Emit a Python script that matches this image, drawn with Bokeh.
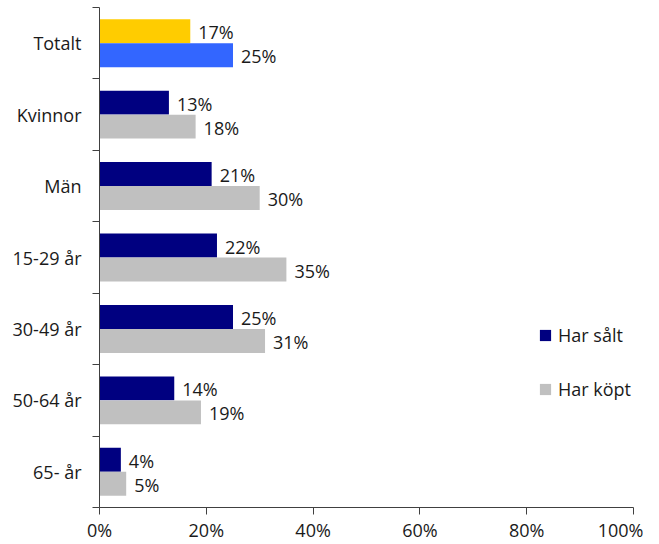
from bokeh.plotting import figure
from bokeh.models import ColumnDataSource, FixedTicker, Legend, LegendItem, PrintfTickFormatter, Range1d, LabelSet
from bokeh.core.properties import value
from bokeh.embed import file_html
from bokeh.resources import INLINE

categories = ["Totalt", "Kvinnor", "Män", "15-29 år", "30-49 år", "50-64 år", "65- år"]
har_salt = [17, 13, 21, 22, 25, 14, 4]
har_kopt = [25, 18, 30, 35, 31, 19, 5]
x_ticks = [0, 20, 40, 60, 80, 100]
series_names = ["Har sålt", "Har köpt"]

FONT = "Open Sans"
FS = "18px"
TXT = "#1a1a1a"
n = len(categories)
centers = [n - i - 0.5 for i in range(n)]
off = 0.168
h = 0.335

p = figure(width=643, height=544, output_backend="svg", toolbar_location=None,
           x_range=Range1d(0, 100), y_range=Range1d(0, n),
           min_border_left=99, min_border_right=10, min_border_top=7, min_border_bottom=28)
p.outline_line_color = None
p.grid.visible = False

def src(idx):
    return ColumnDataSource(dict(
        y_s=[centers[i] + off for i in idx],
        y_k=[centers[i] - off for i in idx],
        s=[har_salt[i] for i in idx],
        k=[har_kopt[i] for i in idx],
        ls=[f"{har_salt[i]}%" for i in idx],
        lk=[f"{har_kopt[i]}%" for i in idx],
    ))

tot = src([0])
rest = src(list(range(1, n)))

p.hbar(y="y_s", right="s", left=0, height=h, source=tot, fill_color="#FFCC00", line_color=None)
p.hbar(y="y_k", right="k", left=0, height=h, source=tot, fill_color="#3366FF", line_color=None)
r_s = p.hbar(y="y_s", right="s", left=0, height=h, source=rest, fill_color="#000080", line_color=None)
r_k = p.hbar(y="y_k", right="k", left=0, height=h, source=rest, fill_color="#C0C0C0", line_color=None)

for s in (tot, rest):
    for yc, xc, lc in (("y_s", "s", "ls"), ("y_k", "k", "lk")):
        p.add_layout(LabelSet(x=xc, y=yc, text=lc, source=s, x_offset=8, y_offset=-1,
                              text_baseline="middle", text_font=value(FONT), text_font_size=FS,
                              text_color=TXT))

# x axis
xa = p.xaxis[0]
xa.ticker = FixedTicker(ticks=x_ticks, minor_ticks=[])
xa.formatter = PrintfTickFormatter(format="%d%%")
xa.major_tick_out = 7
xa.major_tick_in = 0
xa.minor_tick_line_color = None
xa.axis_line_color = "#404040"
xa.major_tick_line_color = "#404040"
xa.major_label_text_font = FONT
xa.major_label_text_font_size = FS
xa.major_label_text_color = TXT
xa.major_label_standoff = 3

# y axis
ya = p.yaxis[0]
ya.ticker = FixedTicker(ticks=centers, minor_ticks=list(range(n + 1)))
ya.major_label_overrides = {c: categories[i] for i, c in enumerate(centers)}
ya.major_tick_line_color = None
ya.major_tick_out = 0
ya.major_tick_in = 0
ya.minor_tick_out = 7
ya.minor_tick_in = 0
ya.minor_tick_line_color = "#404040"
ya.axis_line_color = "#404040"
ya.major_label_text_font = FONT
ya.major_label_text_font_size = FS
ya.major_label_text_color = TXT
ya.major_label_standoff = 11

legend = Legend(items=[LegendItem(label=series_names[0], renderers=[r_s]),
                       LegendItem(label=series_names[1], renderers=[r_k])],
                location=(439, 106), orientation="vertical",
                glyph_width=14, glyph_height=14, label_height=14, spacing=30,
                label_standoff=6, padding=0, margin=0,
                border_line_color=None, background_fill_alpha=0,
                label_text_font=FONT, label_text_font_size=FS, label_text_color=TXT)
p.add_layout(legend)

open("out.html", "w").write(file_html(p, INLINE))
